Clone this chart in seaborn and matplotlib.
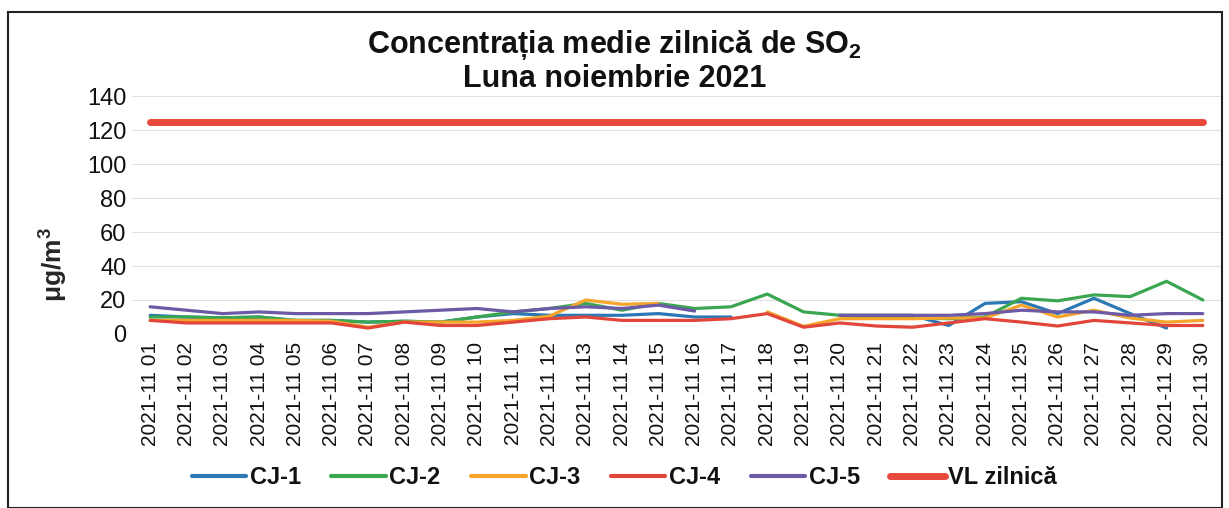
import numpy as np
import pandas as pd
import matplotlib
matplotlib.use("Agg")
import matplotlib.pyplot as plt
import seaborn as sns
from matplotlib.patches import Rectangle
from matplotlib.lines import Line2D

nan = np.nan
days = [f"2021-11 {d:02d}" for d in range(1, 31)]

cj1 = [11, 10, 9.5, 10, 8, 8, 7, 7.5, 7, 10, 12, 11, 11, 11, 12, 10, 10, nan, nan, 11,
       11, 11, 5, 18, 19, 12, 21, 12, 3.5, nan]
cj2 = [10, 10, 9.5, 10, 8, 8, 7, 7.5, 7, 10, 13, 15, 18, 14, 18, 15, 16, 23.5, 13, 11,
       9.5, 9.5, 9, 10, 21, 19.5, 23, 22, 31, 20]
cj3 = [8, 8, 8, 8, 8, 7.5, 4, 7, 7, 7, 8, 10.5, 20, 17.5, 18, nan, nan, 13, 4.5, 9,
       9, 9, 9.4, 9.4, 17, 10, 14, 9.4, 7, 8]
cj4 = [8, 6.5, 6.5, 6.5, 6.5, 6.5, 3.5, 7, 5, 5, 7, 9, 10, 8, 8, 8, 9, 12, 4, 6.5,
       4.7, 4, 6.5, 9, 7, 4.7, 8, 6.5, 5, 5]
cj5 = [16, 14, 12, 13, 12, 12, 12, 13, 14, 15, 13, 15, 16, 15, 17, 13.5, nan, nan, nan, 11,
       11, 11, 11, 12, 14, 13, 13, 11, 12, 12]
vl = [125] * 30

series_names = ["CJ-1", "CJ-2", "CJ-3", "CJ-4", "CJ-5"]
series_vals = [cj1, cj2, cj3, cj4, cj5]
colors = {"CJ-1": "#2b78b4", "CJ-2": "#3aa650", "CJ-3": "#f4a52a",
          "CJ-4": "#e2463a", "CJ-5": "#6c5aa6"}
vl_color = "#e8473c"

rows = []
for name, vals in zip(series_names, series_vals):
    seg = 0
    for i, v in enumerate(vals):
        if np.isnan(v):
            seg += 1
            continue
        rows.append({"day": i, "value": v, "series": name, "seg": f"{name}_{seg}"})
df = pd.DataFrame(rows)
df_vl = pd.DataFrame({"day": np.arange(30), "value": vl, "series": "VL zilnică"})

sns.set_theme(style="white")
FONT = ["Liberation Sans", "DejaVu Sans"]
plt.rcParams["font.family"] = FONT
plt.rcParams["mathtext.fontset"] = "custom"
plt.rcParams["mathtext.rm"] = "Liberation Sans"
plt.rcParams["mathtext.bf"] = "Liberation Sans:bold"
plt.rcParams["text.color"] = "#111111"
plt.rcParams["xtick.color"] = "#111111"
plt.rcParams["ytick.color"] = "#111111"

fig = plt.figure(figsize=(12.29, 5.08), dpi=100)
ax = fig.add_axes([132 / 1229, 1 - 334 / 508, (1221 - 132) / 1229, (334 - 96) / 508])

sns.lineplot(data=df, x="day", y="value", hue="series", units="seg", estimator=None,
             palette=colors, hue_order=series_names, linewidth=2.3, ax=ax, legend=False,
             sort=True)
sns.lineplot(data=df_vl, x="day", y="value", color=vl_color, linewidth=5, ax=ax,
             legend=False)

ax.set_xlim(-0.5, 29.5)
ax.set_ylim(0, 140)
ax.set_yticks(range(0, 141, 20))
ax.set_xticks(range(30))
ax.set_xticklabels(days, rotation=90, fontsize=15, family=FONT)
for lab in ax.get_yticklabels():
    lab.set_family(FONT)
ax.tick_params(axis="y", labelsize=17, pad=4, length=0)
ax.tick_params(axis="x", pad=6, length=0)
ax.yaxis.grid(True, color="#e0e0e0", linewidth=0.8)
for s in ax.spines.values():
    s.set_visible(False)
ax.set_xlabel("")
ax.set_ylabel("μg/m$^\\mathbf{3}$", fontsize=19, fontweight="bold", family=FONT)
ax.yaxis.set_label_coords(-0.058, 0.29)

fig.text(0.5, 1 - 45 / 508, "Concentrația medie zilnică de SO$_\\mathbf{2}$", ha="center",
         va="center", fontsize=22, fontweight="bold", family=FONT)
fig.text(0.5, 1 - 79 / 508, "Luna noiembrie 2021", ha="center", va="center",
         fontsize=22, fontweight="bold", family=FONT)

handles = [Line2D([0], [0], color=colors[n], lw=3) for n in series_names]
handles.append(Line2D([0], [0], color=vl_color, lw=5))
labels = series_names + ["VL zilnică"]
leg = fig.legend(handles, labels, loc="center", bbox_to_anchor=(0.508, 1 - 478 / 508),
                 ncol=6, frameon=False, handlelength=2.3, columnspacing=1.3,
                 handletextpad=0.15,
                 prop={"family": FONT, "weight": "bold", "size": 17})

fig.patches.append(Rectangle((8 / 1229, 0), (1222 - 8) / 1229, 1 - 12 / 508,
                             transform=fig.transFigure, fill=False,
                             edgecolor="#222222", linewidth=1.5))

fig.savefig("out.png", dpi=100)
